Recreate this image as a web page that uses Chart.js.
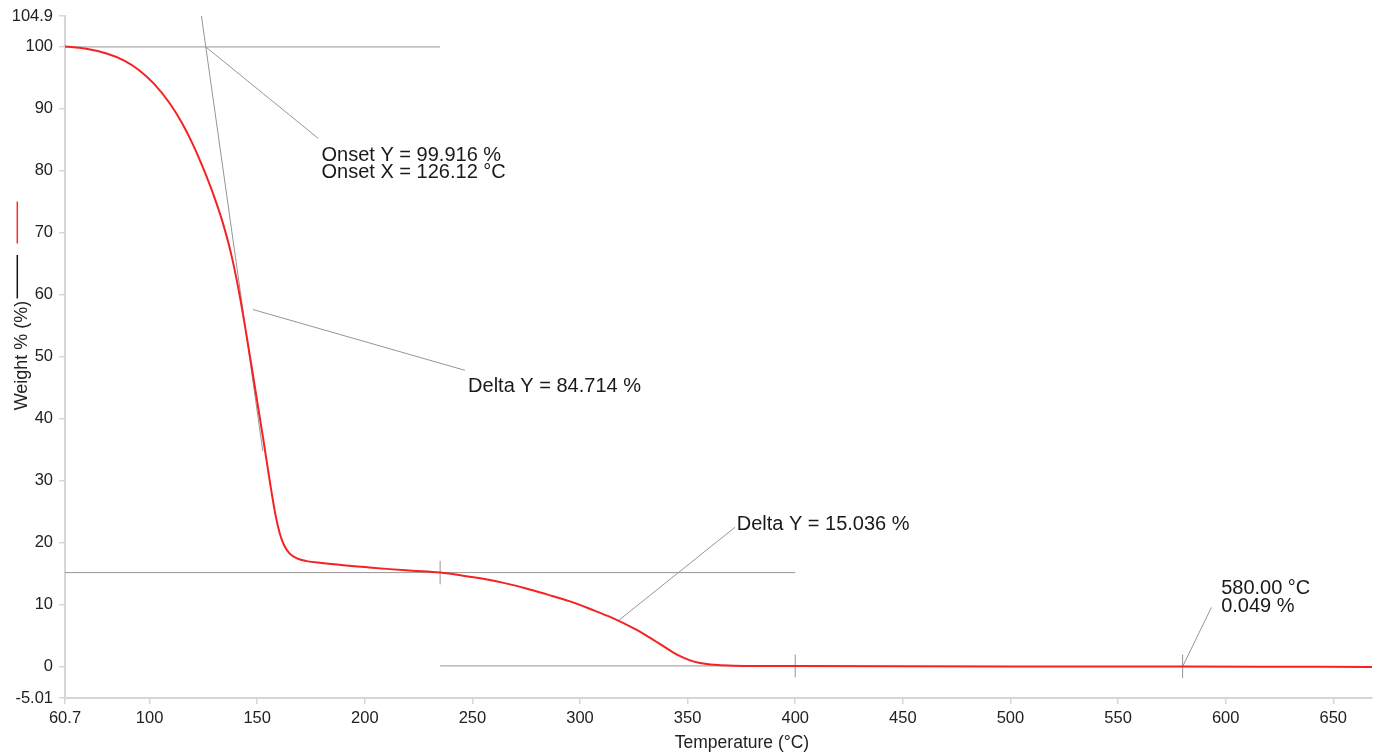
<!DOCTYPE html>
<html><head><meta charset="utf-8">
<script src="https://cdn.jsdelivr.net/npm/chart.js@4"></script>
<style>html,body{margin:0;padding:0;background:#fff;overflow:hidden}#wrap{width:1383px;height:755px;position:relative}</style>
</head><body><div id="wrap"><canvas id="c" width="1383" height="755"></canvas></div>
<script>
// ---- data ----
const temperature = [60.7,70,80,88,95,102,109,115,120,125,130,134,138,142,146,150,153,156,158.5,160.5,162.5,165,168.5,173,180,190,200,210,222,235,245,255,265,275,285,295,305,315,325,332,338,343,348,353,358,364,372,385,400,450,500,550,580,620,668];
const weight = [100,99.65,98.85,97.75,96.2,94.0,91.0,87.7,84.3,80.3,75.8,71.6,66.4,59.6,51.4,42.8,36.3,29.6,24.5,21.5,19.6,18.3,17.5,17.05,16.75,16.4,16.1,15.8,15.5,15.2,14.75,14.2,13.5,12.65,11.65,10.6,9.3,7.9,6.2,4.8,3.5,2.4,1.5,0.85,0.5,0.3,0.2,0.15,0.13,0.09,0.07,0.06,0.05,0.03,0.0];
const xTickValues = [60.7,100,150,200,250,300,350,400,450,500,550,600,650];
const xTickLabels = ['60.7','100','150','200','250','300','350','400','450','500','550','600','650'];
const yTickValues = [-5.01,0,10,20,30,40,50,60,70,80,90,100,104.9];
const yTickLabels = ['-5.01','0','10','20','30','40','50','60','70','80','90','100','104.9'];
const xRange = [60.7, 668];
const yRange = [-5.01, 104.9];
// analysis guide lines (data units: [T, W] pairs)
const guideLines = [
  [[60.7,99.916],[235,99.916]],      // onset baseline
  [[124.1,104.9],[152.6,34.8]],      // onset tangent
  [[126.12,99.916],[178.3,85.2]],    // onset leader
  [[148.0,57.6],[246.5,47.8]],       // delta 1 leader
  [[60.7,15.2],[400,15.2]],          // step 1 level
  [[235,17.1],[235,13.3]],           // step marker 235
  [[235,0.16],[400,0.16]],           // step 2 level
  [[400,2.0],[400,-1.7]],            // step marker 400
  [[318,7.5],[372,22.5]],            // delta 2 leader
  [[580,2.0],[580,-1.8]],            // marker 580
  [[580,0.05],[593.4,9.6]]           // 580 leader
];
const guideTexts = [
  {x:179.9, y:82.5, text:'Onset Y = 99.916 %'},
  {x:179.9, y:79.7, text:'Onset X = 126.12 °C'},
  {x:248.0, y:45.2, text:'Delta Y = 84.714 %'},
  {x:372.8, y:22.9, text:'Delta Y = 15.036 %'},
  {x:597.9, y:12.6, text:'580.00 °C'},
  {x:597.9, y:9.8, text:'0.049 %'}
];
const xTitle = 'Temperature (°C)';
const yTitle = 'Weight % (%)';

const FONT = '"Liberation Sans", Arial, Helvetica, sans-serif';
const points = temperature.map((t,i)=>({x:t, y:weight[i]}));

const guidesPlugin = {
  id:'guides',
  beforeDatasetsDraw(chart){
    const {ctx, scales:{x,y}} = chart;
    ctx.save();
    ctx.strokeStyle = '#959595';
    ctx.lineWidth = 1;
    guideLines.forEach(seg=>{
      ctx.beginPath();
      ctx.moveTo(x.getPixelForValue(seg[0][0]), y.getPixelForValue(seg[0][1]));
      ctx.lineTo(x.getPixelForValue(seg[1][0]), y.getPixelForValue(seg[1][1]));
      ctx.stroke();
    });
    ctx.restore();
  },
  afterDraw(chart){
    const {ctx, scales:{x,y}} = chart;
    ctx.save();
    ctx.fillStyle = '#1a1a1a';
    ctx.font = '20px ' + FONT;
    ctx.textAlign = 'left';
    ctx.textBaseline = 'middle';
    guideTexts.forEach(g=>{
      ctx.fillText(g.text, x.getPixelForValue(g.x), y.getPixelForValue(g.y));
    });
    // axis titles
    ctx.fillStyle = '#222';
    ctx.font = '17.5px ' + FONT;
    ctx.textAlign = 'center';
    ctx.textBaseline = 'alphabetic';
    ctx.fillText(xTitle, 742, 747.5);
    ctx.save();
    ctx.translate(27, 355.5);
    ctx.rotate(-Math.PI/2);
    ctx.font = '18px ' + FONT;
    ctx.fillText(yTitle, 0, 0);
    ctx.restore();
    // series key markers in the y title
    ctx.lineWidth = 1.5;
    ctx.strokeStyle = '#ff2a2a';
    ctx.beginPath(); ctx.moveTo(17.3, 201.5); ctx.lineTo(17.3, 243.5); ctx.stroke();
    ctx.strokeStyle = '#111';
    ctx.beginPath(); ctx.moveTo(17.3, 255); ctx.lineTo(17.3, 298.5); ctx.stroke();
    ctx.restore();
  }
};

new Chart(document.getElementById('c'), {
  type:'line',
  data:{datasets:[{
    data: points,
    borderColor:'#f52222',
    borderWidth:2,
    pointRadius:0,
    cubicInterpolationMode:'monotone',
    fill:false
  }]},
  options:{
    responsive:false,
    animation:false,
    layout:{padding:{top:16,right:11,left:0,bottom:0}},
    plugins:{legend:{display:false}, tooltip:{enabled:false}},
    scales:{
      x:{
        type:'linear', min:xRange[0], max:xRange[1],
        afterBuildTicks(s){ s.ticks = xTickValues.map(v=>({value:v})); },
        afterFit(s){ s.height = 57; },
        ticks:{autoSkip:false, maxRotation:0, padding:5, color:'#222',
          font:{family:FONT, size:16.5},
          callback:(v,i)=>xTickLabels[i]},
        grid:{drawOnChartArea:false, drawTicks:true, tickLength:6, color:'#d6d6d6', lineWidth:1.5},
        border:{color:'#d6d6d6', width:2}
      },
      y:{
        type:'linear', min:yRange[0], max:yRange[1],
        afterBuildTicks(s){ s.ticks = yTickValues.map(v=>({value:v})); },
        afterFit(s){ s.width = 65; },
        ticks:{autoSkip:false, padding:6, color:'#222',
          font:{family:FONT, size:16.5},
          callback:(v,i)=>yTickLabels[i]},
        grid:{drawOnChartArea:false, drawTicks:true, tickLength:6, color:'#d6d6d6', lineWidth:1.5},
        border:{color:'#d6d6d6', width:2}
      }
    }
  },
  plugins:[guidesPlugin]
});
</script>
</body></html>
